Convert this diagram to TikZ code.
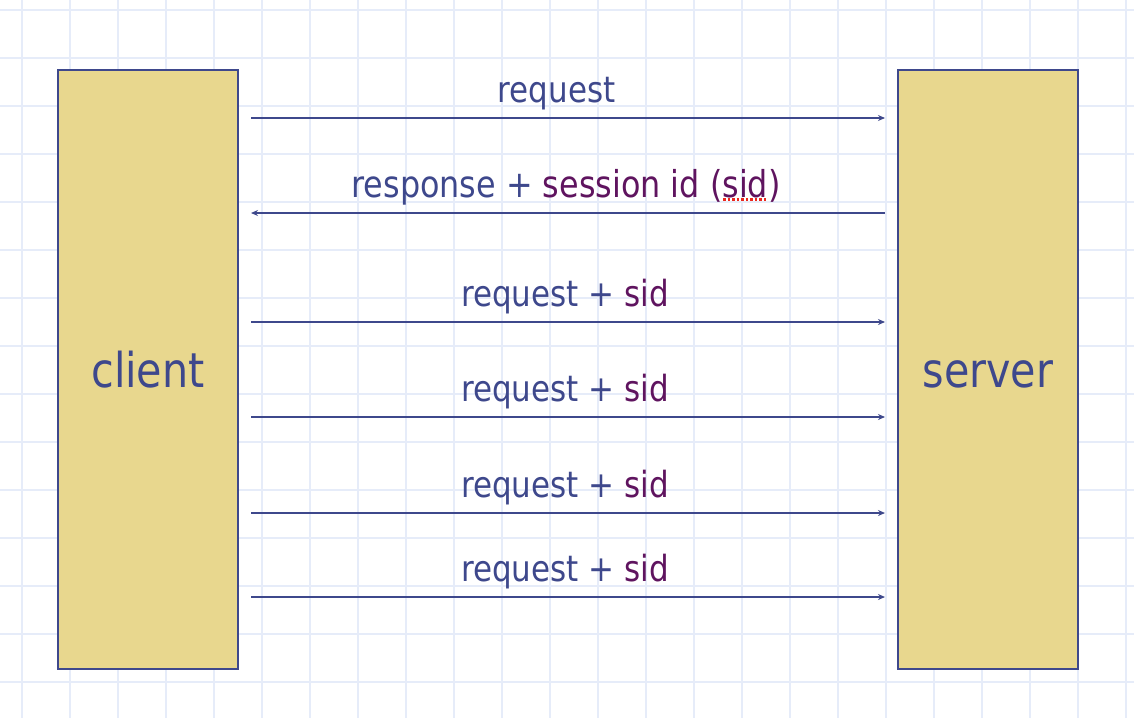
\documentclass[tikz,border=0pt]{standalone}
\usepackage{fontspec}
\setmainfont{DejaVu Sans}[FakeStretch=0.86]
\usetikzlibrary{arrows.meta}
\definecolor{inkblue}{RGB}{62,72,140}
\definecolor{sidpurple}{RGB}{95,20,95}
\definecolor{boxyellow}{RGB}{232,215,142}
\definecolor{gridblue}{RGB}{230,236,249}
\definecolor{squigred}{RGB}{235,40,30}
\newcommand\spellmark[1]{\setbox0\hbox{#1}\rlap{\color{squigred}\raisebox{-3.5pt}{\hbox to \wd0{\leaders\hbox to 4.5pt{\hss\rule{2.6pt}{2.4pt}\hss}\hfill}}}\box0}
\begin{document}
\begin{tikzpicture}[x=1pt,y=-1pt,
		gridline/.style={draw=gridblue,line width=2pt},
		party/.style={draw=inkblue,line width=2pt,fill=boxyellow,minimum width=180pt,minimum height=599pt,text=inkblue,text height=36pt,text depth=0pt,font=\fontsize{48}{52}\selectfont},
		msg/.style={draw=inkblue,line width=1.6pt,-{Stealth[length=7pt,width=6pt]},shorten <=12pt,shorten >=12pt},
		msglabel/.style={anchor=base,inner sep=0pt,text=inkblue,font=\fontsize{36}{40}\selectfont}]
	\useasboundingbox (0,0) rectangle (1134,718);
	\foreach \k in {0,...,23}{
		\draw[gridline] (22+48*\k,0) -- (22+48*\k,718);
	}
	\foreach \k in {0,...,14}{
		\draw[gridline] (0,10+48*\k) -- (1134,10+48*\k);
	}
	\node[party] (client) at (148,369.5) {client};
	\node[party] (server) at (988,369.5) {server};
	\coordinate (m1) at (568,118);
	\draw[msg] (client.east |- m1) -- (server.west |- m1);
	\node[msglabel] (lab1) at (556.5,102) {request};
	\coordinate (m2) at (568,213);
	\draw[msg] (server.west |- m2) -- (client.east |- m2);
	\node[msglabel,font=\fontsize{37}{40}\selectfont] (lab2) at (566,197) {response + {\color{sidpurple}session id (\spellmark{sid})}};
	\foreach \y [count=\i from 3] in {322,417,513,597}{
		\coordinate (m\i) at (568,\y);
		\draw[msg] (client.east |- m\i) -- (server.west |- m\i);
		\node[msglabel] (lab\i) at (565,\y-16) {request + {\color{sidpurple}sid}};
	}
\end{tikzpicture}
\end{document}
